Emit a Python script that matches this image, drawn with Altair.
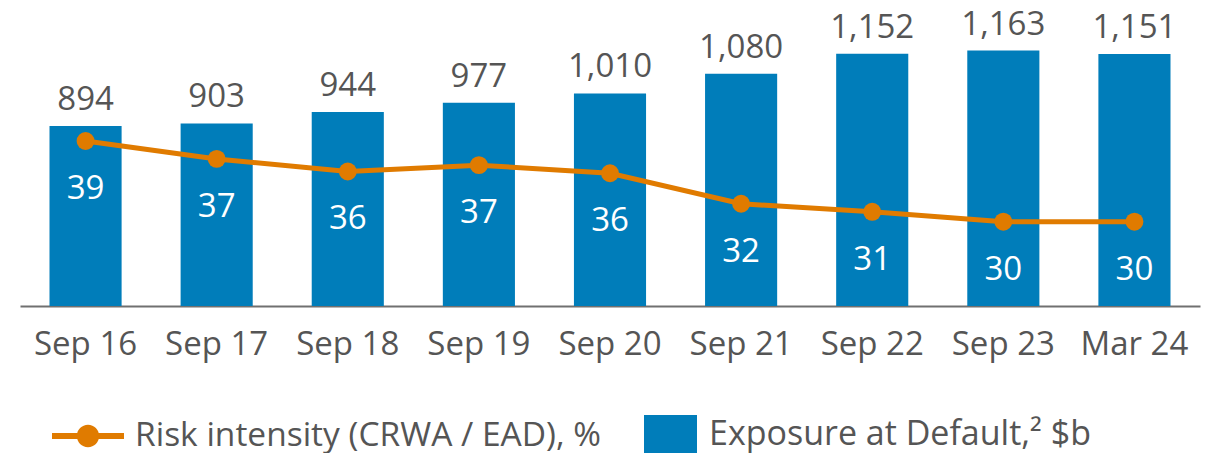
import altair as alt
import pandas as pd

periods = ["Sep 16", "Sep 17", "Sep 18", "Sep 19", "Sep 20", "Sep 21", "Sep 22", "Sep 23", "Mar 24"]
ead = [894, 903, 944, 977, 1010, 1080, 1152, 1163, 1151]
risk = [39.0, 37.0, 35.6, 36.3, 35.4, 32.0, 31.1, 30.0, 30.0]
risk_labels = ["39", "37", "36", "37", "36", "32", "31", "30", "30"]

ead_name = "Exposure at Default,\u00b2 $b"
risk_name = "Risk intensity (CRWA / EAD), %"

BLUE = "#007DBA"
ORANGE = "#E07B00"
TEXT = "#555555"
FONT = "Open Sans"

df = pd.DataFrame({
    "period": periods,
    "ead": ead,
    "risk": risk,
    "risk_label": risk_labels,
    "ead_s": [ead_name] * len(periods),
    "risk_s": [risk_name] * len(periods),
})

x = alt.X("period:N", sort=None,
          scale=alt.Scale(paddingInner=0.45, paddingOuter=0.225),
          axis=alt.Axis(title=None, labelAngle=0, ticks=False, grid=False,
                        labelFont=FONT, labelFontSize=33, labelColor=TEXT,
                        labelPadding=22, domainColor="#707070", domainWidth=2))

ybar = alt.Y("ead:Q", scale=alt.Scale(domain=[251, 1308], zero=False, nice=False, clamp=True), axis=None)
yline = alt.Y("risk:Q", scale=alt.Scale(domain=[20.6, 53.6], zero=False, nice=False), axis=None)

line_sym = ("M-1,-0.08H1V0.08H-1Z "
            "M-0.31,0A0.31,0.31,0,1,1,0.31,0A0.31,0.31,0,1,1,-0.31,0Z")
rect_sym = "M-1,-0.74H1V0.74H-1Z"

base = alt.Chart(df)

bars = base.mark_bar().encode(
    x=x, y=ybar,
    fill=alt.Fill("ead_s:N", scale=alt.Scale(range=[BLUE]),
                  legend=alt.Legend(title=None, orient="none", legendX=624, legendY=398,
                                    symbolType=rect_sym, symbolSize=2809,
                                    symbolStrokeWidth=0, labelOffset=12,
                                    labelFont=FONT, labelFontSize=34, labelColor=TEXT,
                                    labelLimit=1000, padding=0)),
)
bar_text = base.mark_text(dy=-26, baseline="middle", font=FONT, fontSize=33, color=TEXT).encode(
    x=x, y=ybar, text=alt.Text("ead:Q", format=",")
)

line = base.mark_line(strokeWidth=5).encode(
    x=x, y=yline,
    stroke=alt.Stroke("risk_s:N", scale=alt.Scale(range=[ORANGE]),
                      legend=alt.Legend(title=None, orient="none", legendX=32, legendY=390,
                                        symbolType=line_sym, symbolSize=5184,
                                        symbolStrokeWidth=0, symbolFillColor=ORANGE,
                                        symbolStrokeColor=ORANGE,
                                        labelOffset=11,
                                        labelFont=FONT, labelFontSize=33.5, labelColor=TEXT,
                                        labelLimit=1000, padding=0)),
)
points = base.mark_point(filled=True, size=320, opacity=1, color=ORANGE).encode(x=x, y=yline)
line_text = base.mark_text(dy=48, baseline="middle", font=FONT, fontSize=33, color="white").encode(
    x=x, y=yline, text="risk_label:N"
)

bar_layer = alt.layer(bars, bar_text)
line_layer = alt.layer(line, points, line_text)

chart = alt.layer(bar_layer, line_layer).resolve_scale(y="independent").properties(
    width=1180, height=296,
    autosize=alt.AutoSizeParams(type="none"),
    padding={"left": 12, "top": 2, "right": 8, "bottom": 147},
).configure_view(stroke=None)

chart.save("out.html", embed_options={"renderer": "svg", "actions": False})
